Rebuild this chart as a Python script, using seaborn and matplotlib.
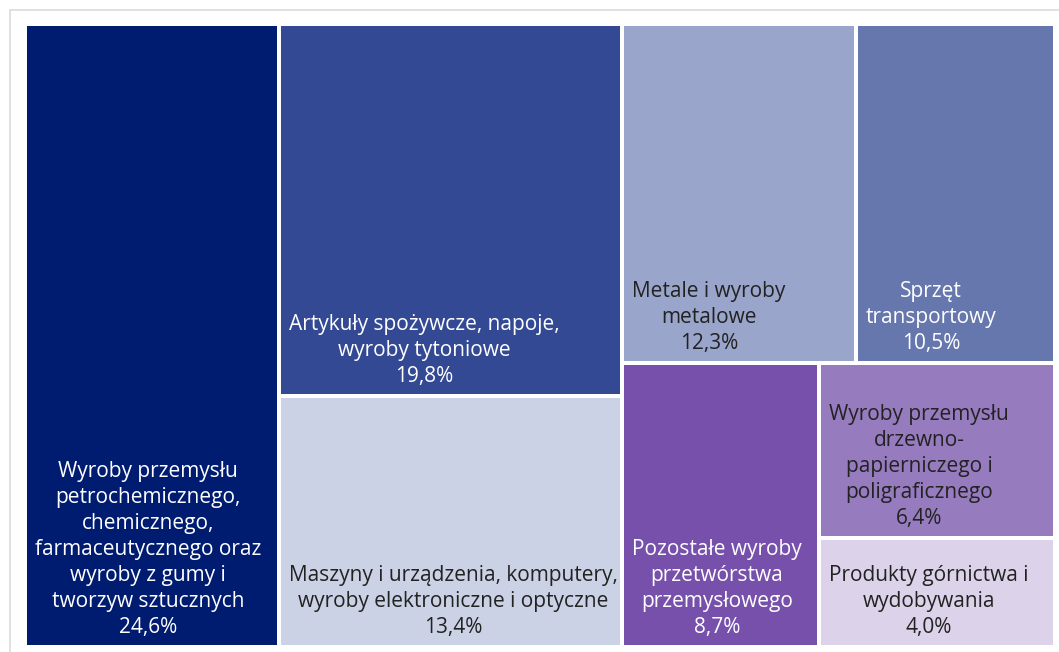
import matplotlib
matplotlib.use("Agg")
import matplotlib.pyplot as plt
import matplotlib.transforms as mtransforms
from matplotlib.patches import Rectangle
from matplotlib.lines import Line2D
import seaborn as sns

# ---- data ----
labels = [
    "Wyroby przemysłu\npetrochemicznego,\nchemicznego,\nfarmaceutycznego oraz\nwyroby z gumy i\ntworzyw sztucznych",
    "Artykuły spożywcze, napoje,\nwyroby tytoniowe",
    "Maszyny i urządzenia, komputery,\nwyroby elektroniczne i optyczne",
    "Metale i wyroby\nmetalowe",
    "Sprzęt\ntransportowy",
    "Pozostałe wyroby\nprzetwórstwa\nprzemysłowego",
    "Wyroby przemysłu\ndrzewno-\npapierniczego i\npoligraficznego",
    "Produkty górnictwa i\nwydobywania",
]
values = [24.6, 19.8, 13.4, 12.3, 10.5, 8.7, 6.4, 4.0]
percent_labels = ["24,6%", "19,8%", "13,4%", "12,3%", "10,5%", "8,7%", "6,4%", "4,0%"]
colors = ["#001c71", "#334994", "#ccd2e5", "#99a5ca", "#6677ae", "#7650aa", "#977bbf", "#dcd3ea"]
text_colors = ["white", "white", "#222222", "#222222", "white", "white", "#222222", "#222222"]

sns.set_theme(style="white")
plt.rcParams["font.family"] = ["Open Sans", "DejaVu Sans"]

W, H = 1059, 652
fig = plt.figure(figsize=(W / 100, H / 100), dpi=100)
fig.patch.set_facecolor("white")

# outer light frame
fig.add_artist(Line2D([10 / W, 1], [1 - 10 / H, 1 - 10 / H], transform=fig.transFigure, color="#dcdcdc", lw=1.2))
fig.add_artist(Line2D([10 / W, 10 / W], [0, 1 - 10 / H], transform=fig.transFigure, color="#dcdcdc", lw=1.2))

left_px, right_px, top_px, bot_px = 25, 1055, 24, 647
ax = fig.add_axes([left_px / W, 1 - bot_px / H, (right_px - left_px) / W, (bot_px - top_px) / H])
ax.set_xlim(0, 1)
ax.set_ylim(1, 0)
ax.axis("off")


def split(rect, weights, horizontal):
    x, y, w, h = rect
    tot = sum(weights)
    out = []
    pos = 0.0
    for wt in weights:
        f = wt / tot
        if horizontal:
            out.append((x + pos * w, y, w * f, h))
        else:
            out.append((x, y + pos * h, w, h * f))
        pos += f
    return out


v = values
full = (0.0, 0.0, 1.0, 1.0)
colA, colBC, colR = split(full, [v[0], v[1] + v[2], sum(v[3:])], True)
rB, rC = split(colBC, [v[1], v[2]], False)
rTop, rBot = split(colR, [v[3] + v[4], v[5] + v[6] + v[7]], False)
rD, rE = split(rTop, [v[3], v[4]], True)
rF, rGH = split(rBot, [v[5], v[6] + v[7]], True)
rG, rH = split(rGH, [v[6], v[7]], False)
rects = [colA, rB, rC, rD, rE, rF, rG, rH]

lw_pt = 4 * 72 / 100
text_tr = mtransforms.offset_copy(ax.transData, fig=fig, x=10, y=9, units="dots")
for (x, y, w, h), lab, pct, c, tc in zip(rects, labels, percent_labels, colors, text_colors):
    ax.add_patch(Rectangle((x, y), w, h, facecolor=c, edgecolor="white", lw=lw_pt))
    ax.text(x, y + h, lab + "\n" + pct, transform=text_tr, ha="left", va="bottom",
            multialignment="center", color=tc, fontsize=15, linespacing=1.31)

fig.savefig("out.png", dpi=100, facecolor="white")
